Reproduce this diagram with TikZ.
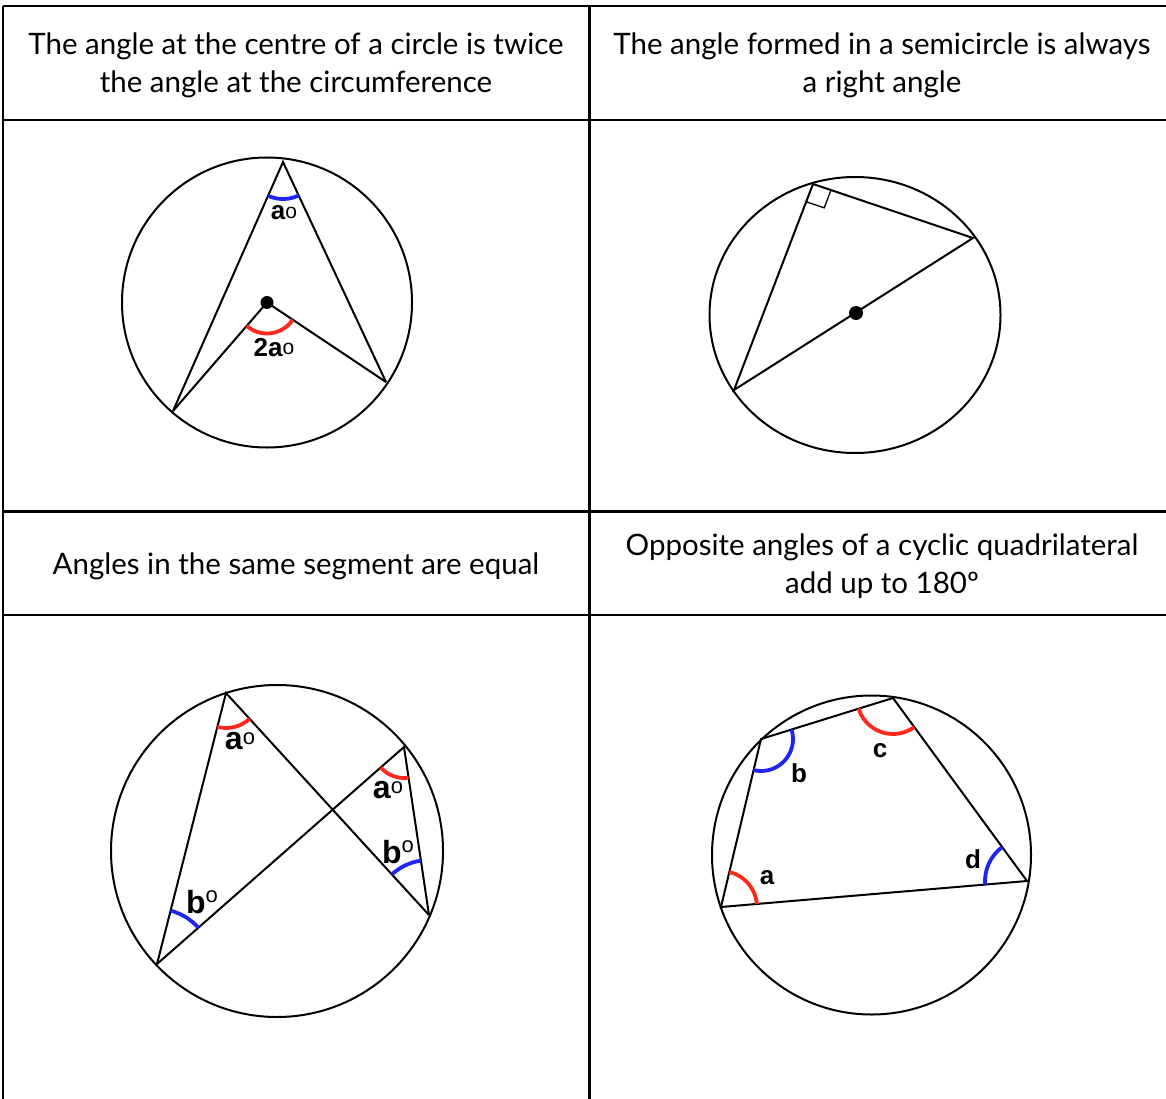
\documentclass[tikz,border=0pt]{standalone}
\usepackage{fontspec}
\setmainfont{Lato}
\setsansfont{Liberation Sans}
\usepackage{xcolor}
\usetikzlibrary{calc, angles}
\definecolor{arcRed}{HTML}{FF2A1C}
\definecolor{arcBlue}{HTML}{1E24F2}
% small ring after an angle letter: raise, size
\newcommand{\ringMark}[2]{\raisebox{#1}{\mdseries\fontsize{#2}{#2}\selectfont o}}

\begin{document}
\begin{tikzpicture}[x=1pt, y=-1pt,
    headText/.style={align=center, inner sep=0pt, font=\fontsize{29.5}{38}\selectfont},
    gridLine/.style={line width=2.4pt},
    rim/.style={line width=2pt},
    chord/.style={line width=2pt},
    redArc/.style={draw=arcRed, line width=3.8pt, angle radius=#1pt},
    blueArc/.style={draw=arcBlue, line width=3.8pt, angle radius=#1pt},
    angleLabel/.style={anchor=base, inner sep=0pt, font=\sffamily\bfseries\fontsize{26}{30}\selectfont},
    bigLabel/.style={angleLabel, font=\sffamily\bfseries\fontsize{32}{38}\selectfont},
    centreDot/.style={circle, fill=black, inner sep=0pt, minimum size=13pt}]
    \useasboundingbox (0,0) rectangle (1166,1099);
    \clip (0,0) rectangle (1166,1099);

    % table
    \draw[gridLine] (3,6) -- (1172,6);
    \draw[gridLine] (3,6) -- (3,1105);
    \draw[gridLine] (589.5,6) -- (589.5,1105);
    \draw[gridLine] (3,120) -- (1172,120);
    \draw[gridLine] (3,511.5) -- (1172,511.5);
    \draw[gridLine] (3,615) -- (1172,615);

    \node (centreHead) at (296,65) [headText] {The angle at the centre of a circle is twice\\the angle at the circumference};
    \node (semiHead) at (882,65) [headText] {The angle formed in a semicircle is always\\a right angle};
    \node (segmentHead) at (296,566) [headText] {Angles in the same segment are equal};
    \node (cyclicHead) at (882,566) [headText] {Opposite angles of a cyclic quadrilateral\\add up to 180º};

    % angle at the centre
    \coordinate (cO) at (267,302.5);
    \coordinate (cT) at (283,162);
    \coordinate (cL) at (173,411);
    \coordinate (cR) at (386,382);
    \draw[rim] (cO) circle[radius=145pt];
    \draw[chord] (cL) -- (cT) -- (cR);
    \draw[chord] (cL) -- (cO) -- (cR);
    \pic[blueArc=37] {angle = cL--cT--cR};
    \pic[redArc=31] {angle = cL--cO--cR};
    \node (centreDotA) at (cO) [centreDot] {};
    \node (labTop) at (284,220) [angleLabel] {a\ringMark{1.5pt}{21}};
    \node (labCentre) at (274,356) [angleLabel] {2a\ringMark{1.5pt}{21}};

    % semicircle
    \coordinate (sO) at (855,315);
    \coordinate (sP) at (813,184);
    \coordinate (sQ) at (973,238);
    \coordinate (sR) at (734,390);
    \draw[rim] (sO) ellipse[x radius=145.5pt, y radius=138pt];
    \draw[chord] (sR) -- (sP) -- (sQ) -- cycle;
    \coordinate (sq1) at ($(sP)!19pt!(sQ)$);
    \coordinate (sq2) at ($(sP)!19pt!(sR)$);
    \draw[line width=1.3pt] (sq1) -- ($(sq1)+(sq2)-(sP)$) -- (sq2);
    \node (centreDotB) at (856,313) [centreDot, minimum size=14pt] {};

    % same segment
    \coordinate (qO) at (277,851);
    \coordinate (qA) at (226,693);
    \coordinate (qB) at (157,964);
    \coordinate (qC) at (404,747);
    \coordinate (qD) at (429,915);
    \draw[rim] (qO) circle[radius=166pt];
    \draw[chord] (qB) -- (qA) -- (qD);
    \draw[chord] (qB) -- (qC) -- (qD);
    \pic[redArc=35] {angle = qB--qA--qD};
    \pic[redArc=31] {angle = qB--qC--qD};
    \pic[blueArc=55] {angle = qC--qB--qA};
    \pic[blueArc=55] {angle = qC--qD--qA};
    \node (labSegA) at (240,749) [bigLabel] {a\ringMark{5pt}{22}};
    \node (labSegC) at (388,798) [bigLabel] {a\ringMark{5pt}{22}};
    \node (labSegB) at (202,913) [bigLabel] {b\ringMark{11pt}{22}};
    \node (labSegD) at (398,863) [bigLabel] {b\ringMark{11pt}{22}};

    % cyclic quadrilateral
    \coordinate (kO) at (871.5,855);
    \coordinate (kA) at (721,907);
    \coordinate (kB) at (761,739);
    \coordinate (kC) at (893,698);
    \coordinate (kD) at (1027,881);
    \draw[rim] (kO) circle[radius=159.5pt];
    \draw[chord] (kA) -- (kB) -- (kC) -- (kD) -- cycle;
    \pic[redArc=36] {angle = kD--kA--kB};
    \pic[blueArc=32] {angle = kA--kB--kC};
    \pic[redArc=36] {angle = kB--kC--kD};
    \pic[blueArc=42] {angle = kC--kD--kA};
    \node (labQuadA) at (767,884) [angleLabel] {a};
    \node (labQuadB) at (799,782) [angleLabel] {b};
    \node (labQuadC) at (880,757) [angleLabel] {c};
    \node (labQuadD) at (973,868) [angleLabel] {d};
\end{tikzpicture}
\end{document}
